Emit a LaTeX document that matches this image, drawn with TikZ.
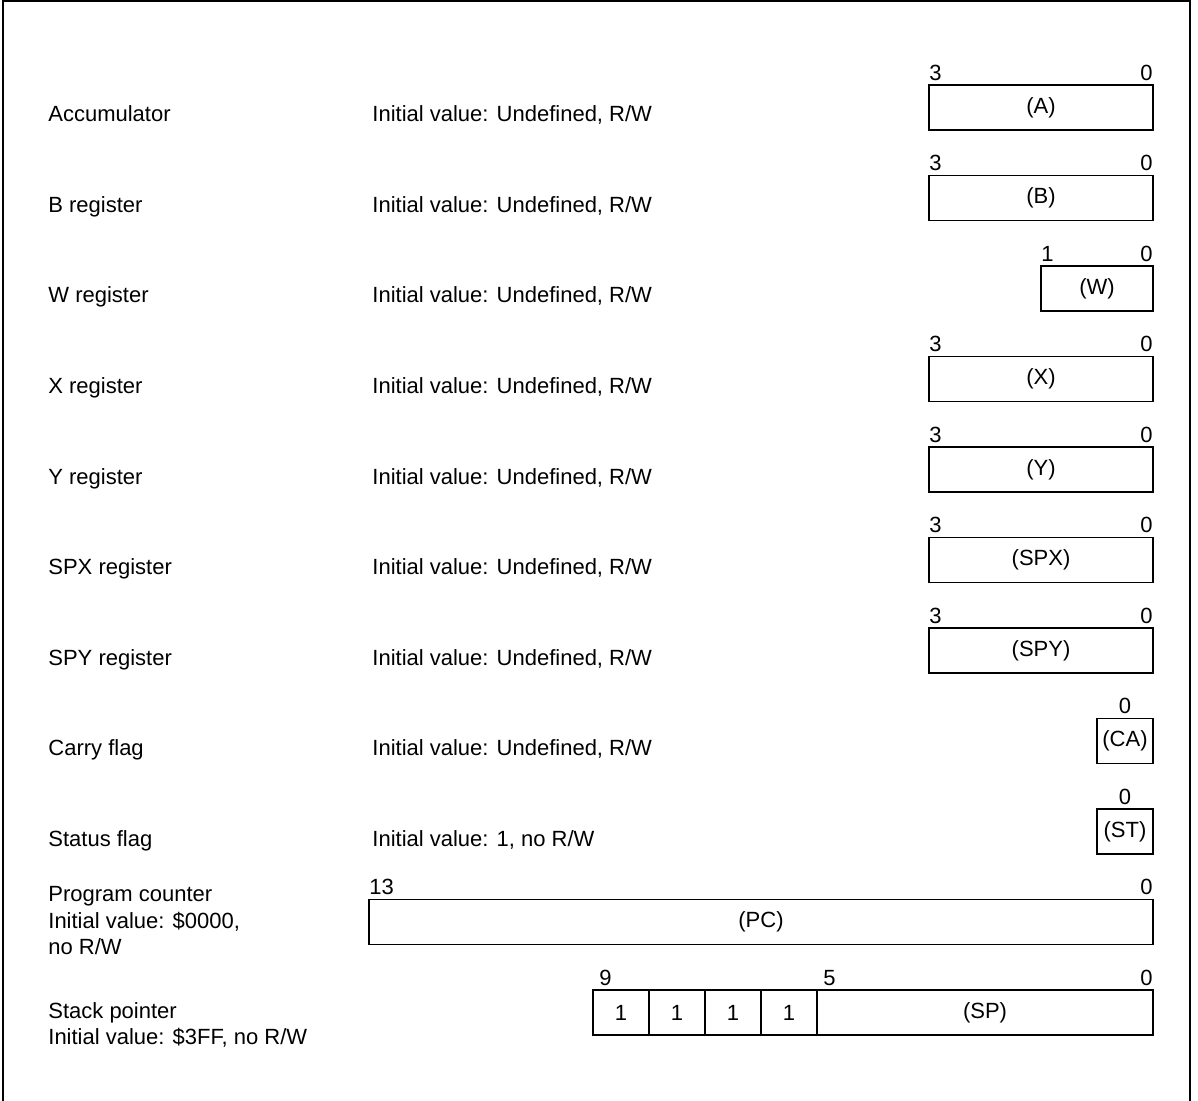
\documentclass[tikz,border=0pt]{standalone}
\usepackage{fontspec}
\setmainfont{Liberation Sans}
\usetikzlibrary{positioning}

\begin{document}
\begin{tikzpicture}[
  x=0.5pt, y=-0.5pt,
  font=\fontsize{11}{13.25}\selectfont,
  reg/.style={draw, line width=0.7pt, minimum height=22.5pt, minimum width=#1*28pt,
              inner sep=0pt, outer sep=0pt},
  reg/.default=1,
  bitno/.style={inner sep=0pt, yshift=2pt},
  lbl/.style={anchor=base west, inner sep=0pt}
]
\useasboundingbox (0,0) rectangle (1198,1101);
\draw[line width=1pt] (3,1101) -- (3,1) -- (1190,1) -- (1190,1101);

% 4 bit and 2 bit registers
\foreach \txt/\reg/\n/\hi [count=\i from 0] in {Accumulator/A/4/3, B register/B/4/3,
    W register/W/2/1, X register/X/4/3, Y register/Y/4/3, SPX register/SPX/4/3,
    SPY register/SPY/4/3} {
  \node[reg=\n, anchor=north east] (r\reg) at (1153, 85+90.5*\i) {(\reg)};
  \node[bitno, anchor=south west] (h\reg) at (r\reg.north west) {\hi};
  \node[bitno, anchor=south east] (l\reg) at (r\reg.north east) {0};
  \node[lbl] (n\reg) at (48, 122+90.5*\i) {\txt};
  \node[lbl] (v\reg) at (372, 122+90.5*\i) {Initial value: Undefined, R/W};
}

% flags
\node[reg, anchor=north east] (rCA) at (1153, 718.5) {(CA)};
\node[bitno, anchor=south] (lCA) at (rCA.north) {0};
\node[lbl] (nCA) at (48, 755.5) {Carry flag};
\node[lbl] (vCA) at (372, 755.5) {Initial value: Undefined, R/W};

\node[reg, anchor=north east] (rST) at (1153, 809) {(ST)};
\node[bitno, anchor=south] (lST) at (rST.north) {0};
\node[lbl] (nST) at (48, 846) {Status flag};
\node[lbl] (vST) at (372, 846) {Initial value: 1, no R/W};

% program counter
\node[reg=14, anchor=north east] (rPC) at (1153, 899.5) {(PC)};
\node[bitno, anchor=south west] (hPC) at (rPC.north west) {13};
\node[bitno, anchor=south east] (lPC) at (rPC.north east) {0};
\node[lbl, anchor=north west, align=left] (nPC) at (48, 886) {Program counter\\Initial value: \$0000,\\no R/W};

% stack pointer
\node[reg=6, anchor=north east] (rSP) at (1153, 990) {(SP)};
\foreach \j [remember=\j as \prev (initially SP)] in {1,...,4}
  \node[reg, left=0pt of r\prev] (r\j) {1};
\node[bitno, anchor=south west, xshift=3pt] (hSP) at (r4.north west) {9};
\node[bitno, anchor=south west, xshift=3pt] (mSP) at (rSP.north west) {5};
\node[bitno, anchor=south east] (lSP) at (rSP.north east) {0};
\node[lbl, anchor=north west, align=left] (nSP) at (48, 1002) {Stack pointer\\Initial value: \$3FF, no R/W};

\end{tikzpicture}
\end{document}
